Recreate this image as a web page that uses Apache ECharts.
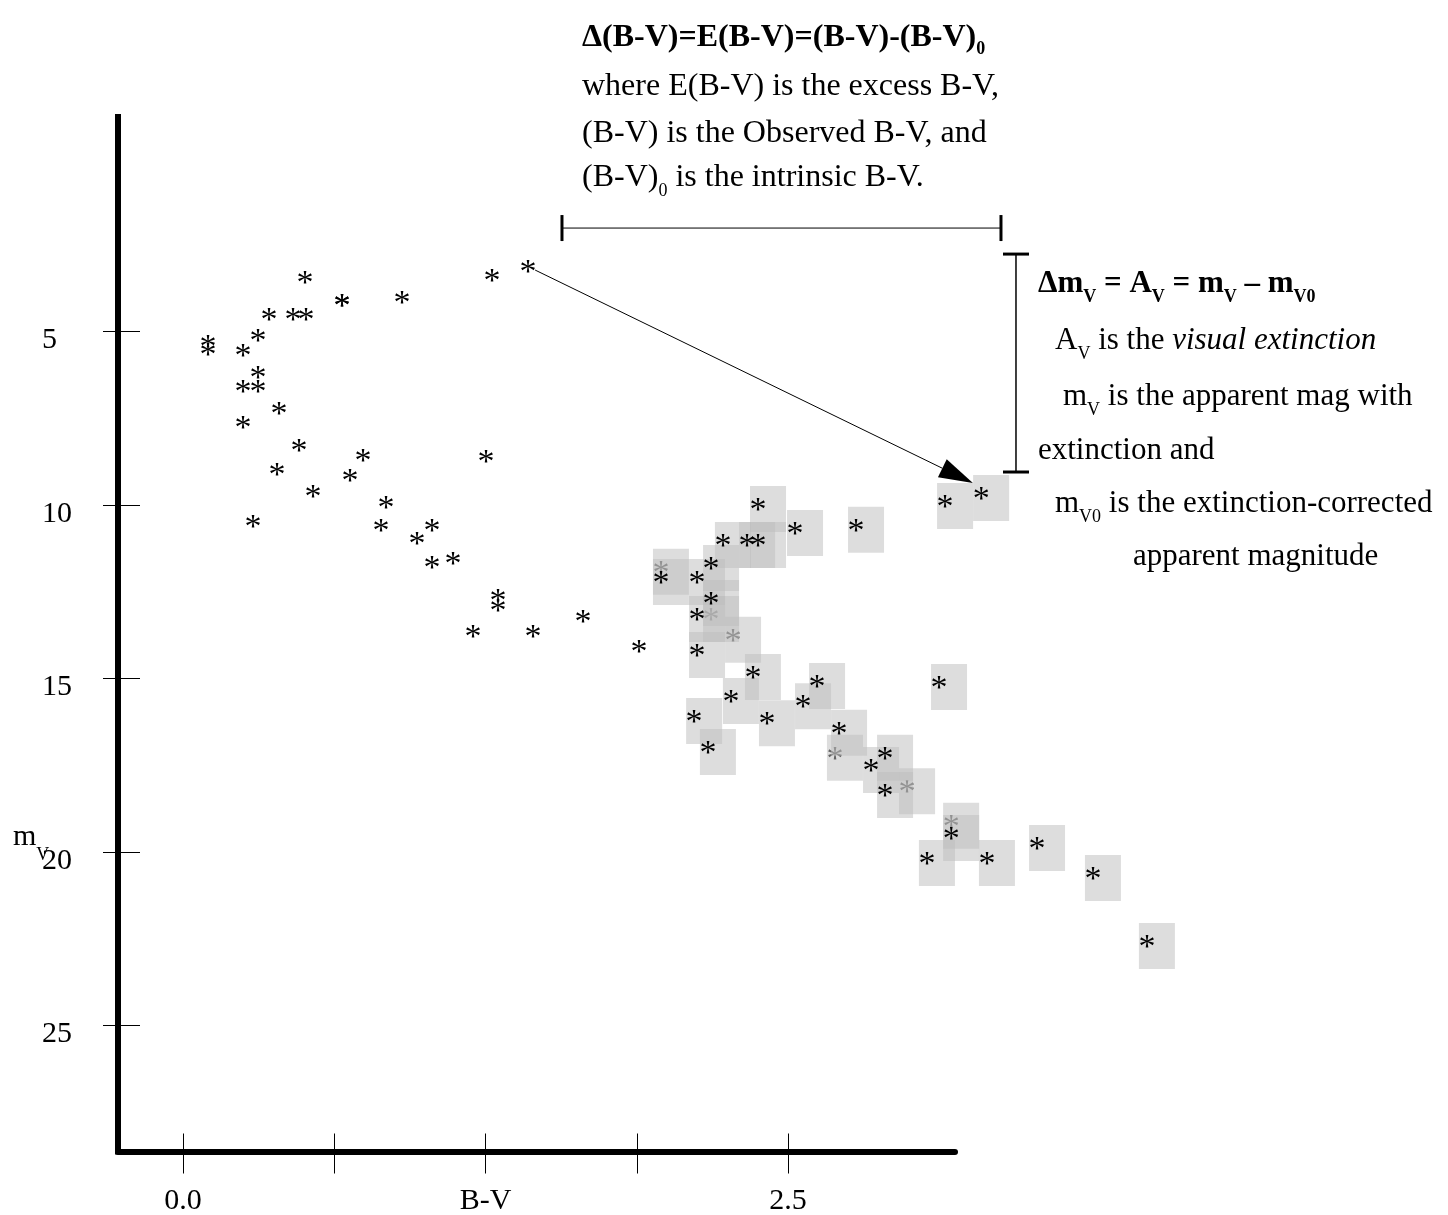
<!DOCTYPE html>
<html><head><meta charset="utf-8">
<script src="https://cdn.jsdelivr.net/npm/echarts@6/dist/echarts.min.js"></script>
<style>html,body{margin:0;padding:0;background:#fff}#c{width:1448px;height:1215px}</style>
</head><body><div id="c"></div>
<script>
// ---- data: intrinsic (unreddened) stars ----
const plainBV = [0.504, 1.277, 1.426, 0.657, 0.657, 0.905, 0.355, 0.455, 0.508, 0.310, 0.103, 0.103, 0.248, 0.310, 0.248, 0.310, 0.397, 0.248, 0.479, 0.744, 1.252, 0.388, 0.690, 0.537, 0.839, 0.289, 0.818, 1.029, 0.967, 1.029, 1.116, 1.302, 1.302, 1.198, 1.446, 1.653, 1.884];
const plainMV = [3.49, 3.43, 3.17, 4.15, 4.15, 4.06, 4.55, 4.55, 4.55, 5.16, 5.33, 5.56, 5.59, 6.22, 6.63, 6.63, 7.26, 7.67, 8.33, 8.62, 8.65, 9.02, 9.19, 9.65, 9.97, 10.52, 10.63, 10.63, 11.01, 11.70, 11.58, 12.65, 12.94, 13.69, 13.69, 13.26, 14.12];
// ---- data: reddened stars (boxed) ----
const reddenedBV = [1.975, 2.124, 2.182, 2.231, 2.331, 2.376, 2.376, 2.529, 2.781, 2.182, 2.124, 2.124, 2.355, 2.620, 2.264, 2.562, 2.112, 2.413, 2.169, 2.711, 2.901, 2.843, 2.901, 3.124, 3.149, 3.298, 3.174, 3.074, 3.322, 3.529, 3.760, 3.983];
const reddenedMV = [12.13, 12.13, 11.73, 11.07, 11.07, 11.07, 10.03, 10.72, 10.63, 12.74, 13.20, 14.24, 14.87, 15.13, 15.56, 15.71, 16.14, 16.20, 17.03, 16.48, 17.20, 17.55, 18.27, 15.16, 9.94, 9.71, 19.51, 20.23, 20.23, 19.80, 20.66, 22.62];
// reddened stars whose asterisk lies under the boxes
const obscuredBV = [1.975, 2.182, 2.273, 2.694, 2.992, 3.174];
const obscuredMV = [11.84, 13.20, 13.80, 17.20, 18.16, 19.16];
// ---- axes ----
const xTicks = [0, 0.625, 1.25, 1.875, 2.5];
const xLabelValues = [0, 1.25, 2.5];
const xLabelTexts = ['0.0', 'B-V', '2.5'];
const yTicks = [5, 10, 15, 20, 25];
// ---- annotations (data units) ----
const arrowFrom = [1.455, 3.23];
const arrowTip = [3.264, 9.37];
const bvBar = [1.566, 3.380, 2.02];   // x0, x1, y
const mvBar = [3.442, 2.77, 9.05];    // x, y0, y1

const FONT = 'Liberation Serif';
const X_MIN = -0.2686, X_MAX = 3.190, Y_MIN = -1.18, Y_MAX = 28.63;

function starSeries(name, bv, mv, z) {
  return {
    type: 'custom', name, coordinateSystem: 'cartesian2d', z, clip: false, silent: true,
    data: bv.map((x, i) => [x, mv[i]]),
    renderItem(params, api) {
      const p = api.coord([api.value(0), api.value(1)]);
      return { type: 'text', x: p[0], y: p[1] + 5,
        style: { text: '*', fontFamily: FONT, fontSize: 34, fill: '#000', align: 'center', verticalAlign: 'middle' } };
    }
  };
}

const boxed = reddenedBV.map((x, i) => [x, reddenedMV[i]]).concat(obscuredBV.map((x, i) => [x, obscuredMV[i]]));

function makeRich(fs) {
  return {
    b: { fontFamily: FONT, fontSize: fs, fontWeight: 'bold', fill: '#000' },
    bs: { fontFamily: FONT, fontSize: 18, fontWeight: 'bold', fill: '#000', padding: [26, 0, 0, 0] },
    ts: { fontFamily: FONT, fontSize: 18, fontWeight: 'bold', fill: '#000', padding: [22, 0, 0, 0] },
    s: { fontFamily: FONT, fontSize: 18, fill: '#000', padding: [26, 0, 0, 0] },
    ls: { fontFamily: FONT, fontSize: 18, fill: '#000', padding: [36, 0, 0, 0] },
    i: { fontFamily: FONT, fontSize: fs, fontStyle: 'italic', fill: '#000' }
  };
}
function txt(x, y, text, fs) {
  fs = fs || 31;
  return { type: 'text', x, y, silent: true, z: 10,
    style: { text, fontFamily: FONT, fontSize: fs, fill: '#000', align: 'left', verticalAlign: 'middle', lineHeight: 34, rich: makeRich(fs) } };
}

const chart = echarts.init(document.getElementById('c'));
const tickLine = { color: '#000', width: 1 };
chart.setOption({
  animation: false,
  backgroundColor: '#fff',
  textStyle: { fontFamily: FONT },
  grid: { left: 118, top: 117, width: 837, height: 1034.5, containLabel: false, outerBoundsMode: 'none' },
  xAxis: [
    { type: 'value', min: X_MIN, max: X_MAX, position: 'bottom',
      axisLine: { show: true, onZero: false, lineStyle: { color: '#000', width: 6 } },
      axisTick: { show: true, inside: true, length: 18, customValues: xTicks, lineStyle: tickLine },
      axisLabel: { show: true, customValues: xLabelValues, margin: 35, fontSize: 30, fontFamily: FONT, color: '#000',
        formatter: v => { const k = xLabelValues.findIndex(t => Math.abs(t - v) < 1e-6); return k >= 0 ? xLabelTexts[k] : ''; } },
      splitLine: { show: false } },
    { type: 'value', min: X_MIN, max: X_MAX, position: 'bottom',
      axisLine: { show: false, onZero: false },
      axisTick: { show: true, inside: false, length: 22, customValues: xTicks, lineStyle: tickLine },
      axisLabel: { show: false }, splitLine: { show: false } }
  ],
  yAxis: [
    { type: 'value', min: Y_MIN, max: Y_MAX, inverse: true, position: 'left',
      axisLine: { show: true, onZero: false, lineStyle: { color: '#000', width: 6, cap: 'square' } },
      axisTick: { show: true, inside: true, length: 22, customValues: yTicks, lineStyle: tickLine },
      axisLabel: { show: true, customValues: yTicks, margin: 76, align: 'left', color: '#000',
        formatter: v => '{a|' + v + '}',
        rich: { a: { fontSize: 30, fontFamily: FONT, color: '#000', padding: [18, 0, 0, 0] } } },
      splitLine: { show: false } },
    { type: 'value', min: Y_MIN, max: Y_MAX, inverse: true, position: 'left',
      axisLine: { show: false, onZero: false },
      axisTick: { show: true, inside: false, length: 15, customValues: yTicks, lineStyle: tickLine },
      axisLabel: { show: false }, splitLine: { show: false } }
  ],
  series: [
    starSeries('obscured', obscuredBV, obscuredMV, 2),
    { type: 'scatter', name: 'boxes', data: boxed, symbol: 'rect', symbolSize: [36, 46], symbolOffset: [10, 3],
      itemStyle: { color: 'rgba(190,190,190,0.65)' }, z: 3, clip: false, silent: true },
    starSeries('reddened', reddenedBV, reddenedMV, 4),
    starSeries('intrinsic', plainBV, plainMV, 4),
    { type: 'custom', name: 'annotations', coordinateSystem: 'cartesian2d', z: 5, clip: false, silent: true,
      data: [[0, 0]],
      renderItem(params, api) {
        const c = api.coord;
        const a = c(arrowFrom), t = c(arrowTip);
        const dx = t[0] - a[0], dy = t[1] - a[1], L = Math.hypot(dx, dy), ux = dx / L, uy = dy / L;
        const hl = 34, hw = 10;
        const bx = t[0] - ux * hl, by = t[1] - uy * hl;
        const h0 = c([bvBar[0], bvBar[2]]), h1 = c([bvBar[1], bvBar[2]]);
        const v0 = c([mvBar[0], mvBar[1]]), v1 = c([mvBar[0], mvBar[2]]);
        const thin = { stroke: '#000', lineWidth: 1 }, thick = { stroke: '#000', lineWidth: 3 };
        return { type: 'group', children: [
          { type: 'line', shape: { x1: a[0], y1: a[1], x2: bx, y2: by }, style: thin },
          { type: 'polygon', shape: { points: [[t[0], t[1]], [bx - uy * hw, by + ux * hw], [bx + uy * hw, by - ux * hw]] }, style: { fill: '#000' } },
          { type: 'line', shape: { x1: h0[0], y1: h0[1], x2: h1[0], y2: h1[1] }, style: thin },
          { type: 'line', shape: { x1: h0[0], y1: h0[1] - 13, x2: h0[0], y2: h0[1] + 13 }, style: thick },
          { type: 'line', shape: { x1: h1[0], y1: h1[1] - 13, x2: h1[0], y2: h1[1] + 13 }, style: thick },
          { type: 'line', shape: { x1: v0[0], y1: v0[1], x2: v1[0], y2: v1[1] }, style: { stroke: '#000', lineWidth: 1.5 } },
          { type: 'line', shape: { x1: v0[0] - 13, y1: v0[1], x2: v0[0] + 13, y2: v0[1] }, style: thick },
          { type: 'line', shape: { x1: v1[0] - 13, y1: v1[1], x2: v1[0] + 13, y2: v1[1] }, style: thick }
        ] };
      } }
  ],
  graphic: [
    txt(582, 38, '{b|Δ(B-V)=E(B-V)=(B-V)-(B-V)}{ts|0}', 32),
    txt(582, 87, 'where E(B-V) is the excess B-V,', 32),
    txt(582, 134, '(B-V) is the Observed B-V, and', 32),
    txt(582, 178, '(B-V){s|0} is the intrinsic B-V.', 32),
    txt(1038, 284, '{b|Δm}{bs|V}{b| = A}{bs|V}{b| = m}{bs|V}{b| – m}{bs|V0}'),
    txt(1055, 341, 'A{s|V} is the {i|visual extinction}'),
    txt(1063, 397, 'm{s|V} is the apparent mag with'),
    txt(1038, 451, 'extinction and'),
    txt(1055, 504, 'm{s|V0} is the extinction-corrected'),
    txt(1133, 557, 'apparent magnitude'),
    txt(13, 837, 'm{ls|V}', 30)
  ]
});
</script>
</body></html>
